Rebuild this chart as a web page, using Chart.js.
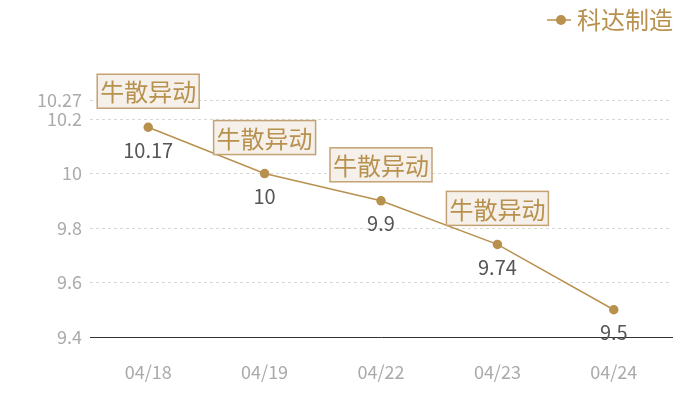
<!DOCTYPE html>
<html>
<head>
<meta charset="utf-8">
<script src="https://cdn.jsdelivr.net/npm/chart.js@4"></script>
<style>
  html, body { margin: 0; padding: 0; background: #ffffff; }
  #wrap { width: 700px; height: 400px; }
</style>
</head>
<body>
<div id="wrap"><canvas id="chart"></canvas></div>
<script>
// Data
const dates = ["04/18", "04/19", "04/22", "04/23", "04/24"];
const prices = [10.17, 10, 9.9, 9.74, 9.5];
const tags = ["牛散异动", "牛散异动", "牛散异动", "牛散异动", ""];
const yTicks = [9.4, 9.6, 9.8, 10, 10.2, 10.27];
const seriesName = "科达制造";

const gold = "#b8914f";
const font = "'Noto Sans CJK SC', 'Noto Sans', sans-serif";

// Value labels under points and the tag boxes above them
const pointLabels = {
  id: "pointLabels",
  afterDatasetsDraw(chart) {
    const ctx = chart.ctx;
    const meta = chart.getDatasetMeta(0);
    ctx.save();
    meta.data.forEach((pt, i) => {
      // value under the point
      ctx.font = "20px " + font;
      ctx.fillStyle = "#555555";
      ctx.textAlign = "center";
      ctx.textBaseline = "middle";
      ctx.fillText(String(prices[i]), pt.x, pt.y + 23);

      // tag box above the point
      if (tags[i]) {
        ctx.font = "24px " + font;
        const w = ctx.measureText(tags[i]).width + 6;
        const h = 34;
        const bx = pt.x - w / 2;
        const by = pt.y - 53;
        ctx.fillStyle = "#f5f0ea";
        ctx.fillRect(bx, by, w, h);
        ctx.strokeStyle = "#c4a274";
        ctx.lineWidth = 1.5;
        ctx.strokeRect(bx, by, w, h);
        ctx.fillStyle = gold;
        ctx.fillText(tags[i], pt.x, by + h / 2 + 1);
      }
    });
    ctx.restore();
  }
};

// Legend in the top right corner: short line with a dot, then the name
const cornerLegend = {
  id: "cornerLegend",
  afterDraw(chart) {
    const ctx = chart.ctx;
    ctx.save();
    ctx.font = "24px " + font;
    const tw = ctx.measureText(seriesName).width;
    const right = chart.width - 27;
    const cy = 20;
    const tx = right - tw;
    ctx.strokeStyle = gold;
    ctx.lineWidth = 1.5;
    ctx.beginPath();
    ctx.moveTo(tx - 30, cy);
    ctx.lineTo(tx - 6, cy);
    ctx.stroke();
    ctx.fillStyle = gold;
    ctx.beginPath();
    ctx.arc(tx - 16, cy, 5, 0, Math.PI * 2);
    ctx.fill();
    ctx.textAlign = "left";
    ctx.textBaseline = "middle";
    ctx.fillText(seriesName, tx, cy);
    ctx.restore();
  }
};

new Chart(document.getElementById("chart"), {
  type: "line",
  data: {
    labels: dates,
    datasets: [{
      label: seriesName,
      data: prices,
      borderColor: gold,
      backgroundColor: gold,
      borderWidth: 1.5,
      pointRadius: 4,
      pointHoverRadius: 4,
      tension: 0
    }]
  },
  options: {
    responsive: true,
    maintainAspectRatio: false,
    animation: false,
    layout: { padding: { top: 100, right: 28, left: 0, bottom: 0 } },
    plugins: {
      legend: { display: false },
      tooltip: { enabled: false }
    },
    scales: {
      x: {
        offset: true,
        grid: { display: false },
        border: { display: true, color: "#333333", width: 1 },
        ticks: { color: "#aaaaaa", font: { family: font, size: 18 }, padding: 16 },
        afterFit(scale) { scale.height = 63; }
      },
      y: {
        min: 9.4,
        max: 10.27,
        afterBuildTicks(scale) {
          scale.ticks = yTicks.map(v => ({ value: v }));
        },
        grid: { color: "#d8d8d8", drawTicks: false },
        border: { display: false, dash: [3, 3] },
        ticks: {
          color: "#aaaaaa",
          font: { family: font, size: 18 },
          padding: 8,
          callback: v => String(v)
        },
        afterFit(scale) { scale.width = 90; }
      }
    }
  },
  plugins: [pointLabels, cornerLegend]
});
</script>
</body>
</html>
